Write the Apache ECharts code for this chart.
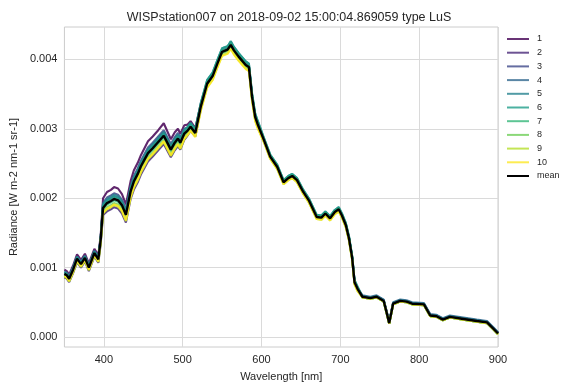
<!DOCTYPE html>
<html>
<head>
<meta charset="utf-8">
<script src="https://cdn.jsdelivr.net/npm/echarts@6/dist/echarts.min.js"></script>
<style>
  html, body { margin: 0; padding: 0; background: #fff; }
  #chart { width: 567px; height: 387px; }
</style>
</head>
<body>
<div id="chart"></div>
<script>
// radiance values are written in units of 1e-5 W m-2 nm-1 sr-1
const UNIT = 1e-5

const wavelengths = [350, 353, 356, 361, 366, 371, 376, 381, 388, 393,
  396, 399, 404, 409, 413, 418, 423, 428, 434, 438,
  443, 447, 456, 462, 469, 476, 485, 490, 494, 497,
  502, 506, 510, 516, 523, 531, 538, 544, 550, 557,
  561, 565, 571, 580, 584, 588, 592, 595, 603, 611,
  620, 628, 634, 639, 645, 653, 660, 670, 676, 681,
  687, 693, 698, 702, 707, 711, 715, 718, 722, 728,
  738, 746, 755, 759, 762, 767, 776, 784, 791, 806,
  814, 822, 830, 839, 856, 873, 886, 894, 900]

const s1 = [97, 95, 90, 103, 119, 111, 120, 106, 127, 118,
  146, 200, 209, 212, 216, 214, 206, 191, 225, 240,
  251, 262, 282, 289, 298, 308, 285, 295, 300, 293,
  305, 306, 311, 301, 336, 367, 377, 395, 412, 415,
  422, 414, 405, 393, 390, 347, 318, 308, 284, 260,
  245, 223, 229, 232, 226, 209, 197, 173, 172, 178,
  171, 180, 184, 175, 161, 142, 114, 79, 69, 59,
  57, 59, 53, 35, 21, 49, 53, 52, 49, 48,
  32, 31, 26, 30, 27, 24, 22, 13, 6]
const s2 = [86, 84, 79, 92, 108, 100, 109, 95, 116, 107,
  134, 176, 181, 184, 187, 185, 178, 165, 199, 212,
  223, 234, 253, 260, 269, 278, 259, 269, 275, 270,
  284, 290, 297, 289, 329, 363, 375, 393, 410, 413,
  420, 412, 403, 391, 388, 345, 316, 306, 283, 259,
  244, 222, 228, 231, 225, 208, 196, 172, 171, 177,
  170, 179, 183, 174, 160, 141, 113, 78, 68, 58,
  56, 58, 52, 34, 20, 48, 52, 51, 48, 47,
  31, 30, 25, 29, 26, 23, 21, 12, 5]
const s3 = [94, 92, 87, 100, 116, 108, 117, 103, 124, 115,
  143, 193, 201, 204, 207, 205, 198, 184, 218, 232,
  243, 254, 273, 280, 289, 298, 278, 288, 294, 288,
  300, 302, 307, 297, 334, 366, 377, 395, 412, 415,
  422, 414, 405, 393, 390, 347, 318, 308, 284, 260,
  245, 223, 229, 232, 226, 209, 197, 173, 172, 178,
  171, 180, 184, 175, 161, 142, 114, 79, 69, 59,
  57, 59, 53, 35, 21, 49, 53, 52, 49, 48,
  32, 31, 26, 30, 27, 24, 22, 13, 6]
const s4 = [93, 91, 86, 99, 115, 107, 116, 102, 123, 114,
  142, 190, 197, 200, 203, 201, 194, 180, 214, 228,
  239, 250, 269, 276, 285, 294, 274, 284, 290, 284,
  297, 300, 306, 297, 334, 367, 378, 396, 413, 416,
  423, 415, 406, 394, 391, 348, 319, 309, 285, 261,
  246, 224, 230, 233, 227, 210, 198, 174, 173, 179,
  172, 181, 185, 176, 162, 143, 115, 80, 70, 60,
  58, 60, 54, 36, 22, 50, 54, 53, 50, 49,
  33, 32, 27, 31, 28, 25, 23, 14, 7]
const s5 = [94, 92, 87, 100, 116, 108, 117, 103, 124, 115,
  143, 192, 199, 202, 205, 203, 196, 182, 216, 230,
  241, 252, 271, 278, 287, 296, 276, 286, 292, 286,
  299, 302, 308, 299, 337, 370, 381, 399, 416, 419,
  426, 418, 409, 397, 394, 351, 322, 312, 287, 263,
  248, 226, 232, 235, 229, 212, 200, 176, 175, 181,
  174, 183, 187, 178, 164, 145, 117, 82, 72, 59,
  57, 59, 53, 35, 21, 49, 53, 52, 49, 48,
  32, 31, 26, 30, 27, 24, 22, 13, 6]
const s6 = [92, 90, 85, 98, 114, 106, 115, 101, 122, 113,
  141, 189, 196, 199, 202, 200, 193, 179, 213, 227,
  238, 249, 268, 275, 284, 293, 273, 283, 289, 283,
  297, 302, 308, 299, 337, 370, 381, 399, 416, 419,
  426, 418, 409, 397, 394, 351, 322, 312, 287, 263,
  248, 226, 232, 235, 229, 212, 200, 176, 175, 181,
  174, 183, 187, 178, 164, 145, 117, 82, 72, 57,
  55, 57, 51, 33, 19, 47, 51, 50, 47, 46,
  30, 29, 24, 28, 25, 22, 20, 11, 4]
const s7 = [90, 88, 83, 96, 112, 104, 113, 99, 120, 111,
  139, 184, 191, 194, 197, 195, 188, 174, 208, 222,
  233, 244, 263, 270, 279, 288, 268, 278, 284, 278,
  291, 298, 304, 295, 333, 366, 377, 395, 412, 415,
  422, 414, 405, 393, 390, 347, 318, 308, 285, 261,
  246, 224, 230, 233, 227, 210, 198, 174, 173, 179,
  172, 181, 185, 176, 162, 143, 115, 80, 70, 57,
  55, 57, 51, 33, 19, 47, 51, 50, 47, 46,
  30, 29, 24, 28, 25, 22, 20, 11, 4]
const s8 = [88, 86, 81, 94, 110, 102, 111, 97, 118, 109,
  137, 180, 187, 190, 193, 191, 184, 170, 204, 218,
  229, 240, 259, 266, 275, 284, 264, 274, 280, 274,
  288, 295, 301, 292, 330, 363, 374, 392, 409, 412,
  419, 411, 402, 390, 387, 344, 315, 305, 282, 258,
  243, 221, 227, 230, 224, 207, 195, 171, 170, 176,
  169, 178, 182, 173, 159, 140, 112, 77, 67, 57,
  55, 57, 51, 33, 19, 47, 51, 50, 47, 46,
  30, 29, 24, 28, 25, 22, 20, 11, 4]
const s9 = [87, 85, 80, 93, 109, 101, 110, 96, 117, 108,
  136, 178, 184, 187, 190, 188, 181, 167, 201, 215,
  226, 237, 256, 263, 272, 281, 261, 271, 277, 271,
  285, 291, 298, 289, 327, 360, 371, 389, 406, 409,
  416, 408, 399, 387, 384, 341, 312, 302, 281, 257,
  242, 220, 226, 229, 223, 206, 194, 170, 169, 175,
  168, 177, 181, 172, 158, 139, 111, 76, 66, 57,
  55, 57, 51, 33, 19, 47, 51, 50, 47, 46,
  30, 29, 24, 28, 25, 22, 20, 11, 4]
const s10 = [88, 86, 81, 94, 110, 102, 111, 97, 118, 109,
  137, 179, 185, 188, 191, 189, 182, 168, 202, 216,
  227, 238, 257, 264, 273, 282, 262, 272, 278, 272,
  286, 291, 297, 288, 326, 359, 370, 388, 405, 408,
  415, 407, 398, 386, 383, 340, 311, 301, 281, 257,
  242, 220, 226, 229, 223, 206, 194, 170, 169, 175,
  168, 177, 181, 172, 158, 139, 111, 76, 66, 57,
  55, 57, 51, 33, 19, 47, 51, 50, 47, 46,
  30, 29, 24, 28, 25, 22, 20, 11, 4]
const meanValues = [91, 89, 84, 97, 113, 105, 114, 100, 121, 112,
  140, 186, 193, 196, 199, 197, 190, 176, 210, 224,
  235, 246, 265, 272, 281, 290, 270, 280, 286, 280,
  293, 297, 303, 294, 332, 365, 376, 394, 411, 414,
  421, 413, 404, 392, 389, 346, 317, 307, 284, 260,
  245, 223, 229, 232, 226, 209, 197, 173, 172, 178,
  171, 180, 184, 175, 161, 142, 114, 79, 69, 58,
  56, 58, 52, 34, 20, 48, 52, 51, 48, 47,
  31, 30, 25, 29, 26, 23, 21, 12, 5]

const seriesNames = ['1', '2', '3', '4', '5', '6', '7', '8', '9', '10', 'mean']
const seriesValues = [s1, s2, s3, s4, s5, s6, s7, s8, s9, s10, meanValues]
const seriesColors = ['#440154', '#482878', '#3e4989', '#31688e', '#26828e',
  '#1f9e89', '#35b779', '#6ece58', '#b5de2b', '#fde725', '#000000']

const xTicks = [400, 500, 600, 700, 800, 900]
const yTicks = [0, 0.001, 0.002, 0.003, 0.004]

const font = 'Liberation Sans'
const chart = echarts.init(document.getElementById('chart'))

chart.setOption({
  backgroundColor: '#fff',
  animation: false,
  title: {
    text: 'WISPstation007 on 2018-09-02 15:00:04.869059 type LuS',
    left: 284,
    top: 6,
    textAlign: 'center',
    textStyle: { fontFamily: font, fontSize: 12.5, fontWeight: 'normal', color: '#262626' }
  },
  legend: {
    orient: 'vertical',
    left: 507,
    top: 33,
    padding: 0,
    itemGap: 1.7,
    itemWidth: 22,
    itemHeight: 2,
    icon: 'rect',
    textStyle: { fontFamily: font, fontSize: 9, color: '#262626', lineHeight: 12, padding: [0, 0, 0, 3] },
    data: seriesNames.map((name, i) => ({
      name: name,
      itemStyle: { color: seriesColors[i], opacity: name === 'mean' ? 1 : 0.8 }
    }))
  },
  grid: {
    left: 63,
    right: 69,
    top: 27,
    bottom: 40,
    show: true,
    borderColor: '#cccccc',
    borderWidth: 1
  },
  xAxis: {
    type: 'value',
    min: 350,
    max: 900,
    name: 'Wavelength [nm]',
    nameLocation: 'middle',
    nameGap: 24,
    nameTextStyle: { fontFamily: font, fontSize: 11, color: '#262626' },
    axisLine: { show: false },
    axisTick: { show: false, customValues: xTicks },
    axisLabel: { customValues: xTicks, margin: 7, fontFamily: font, fontSize: 11, color: '#262626' },
    splitLine: { show: true, lineStyle: { color: '#dadada', width: 1 } }
  },
  yAxis: {
    type: 'value',
    min: -0.000144,
    max: 0.004467,
    name: 'Radiance [W m-2 nm-1 sr-1]',
    nameLocation: 'middle',
    nameGap: 45,
    nameTextStyle: { fontFamily: font, fontSize: 11, color: '#262626' },
    axisLine: { show: false },
    axisTick: { show: false, customValues: yTicks },
    axisLabel: {
      customValues: yTicks,
      margin: 7,
      fontFamily: font,
      fontSize: 11,
      color: '#262626',
      formatter: v => v.toFixed(3)
    },
    splitLine: { show: true, lineStyle: { color: '#dadada', width: 1 } }
  },
  series: seriesNames.map((name, i) => ({
    name: name,
    type: 'line',
    showSymbol: false,
    symbol: 'none',
    z: 2 + i,
    lineStyle: {
      color: seriesColors[i],
      width: name === 'mean' ? 2.4 : 2.1,
      opacity: name === 'mean' ? 1 : 0.85
    },
    itemStyle: { color: seriesColors[i] },
    data: wavelengths.map((w, j) => [w, seriesValues[i][j] * UNIT])
  }))
})
</script>
</body>
</html>
